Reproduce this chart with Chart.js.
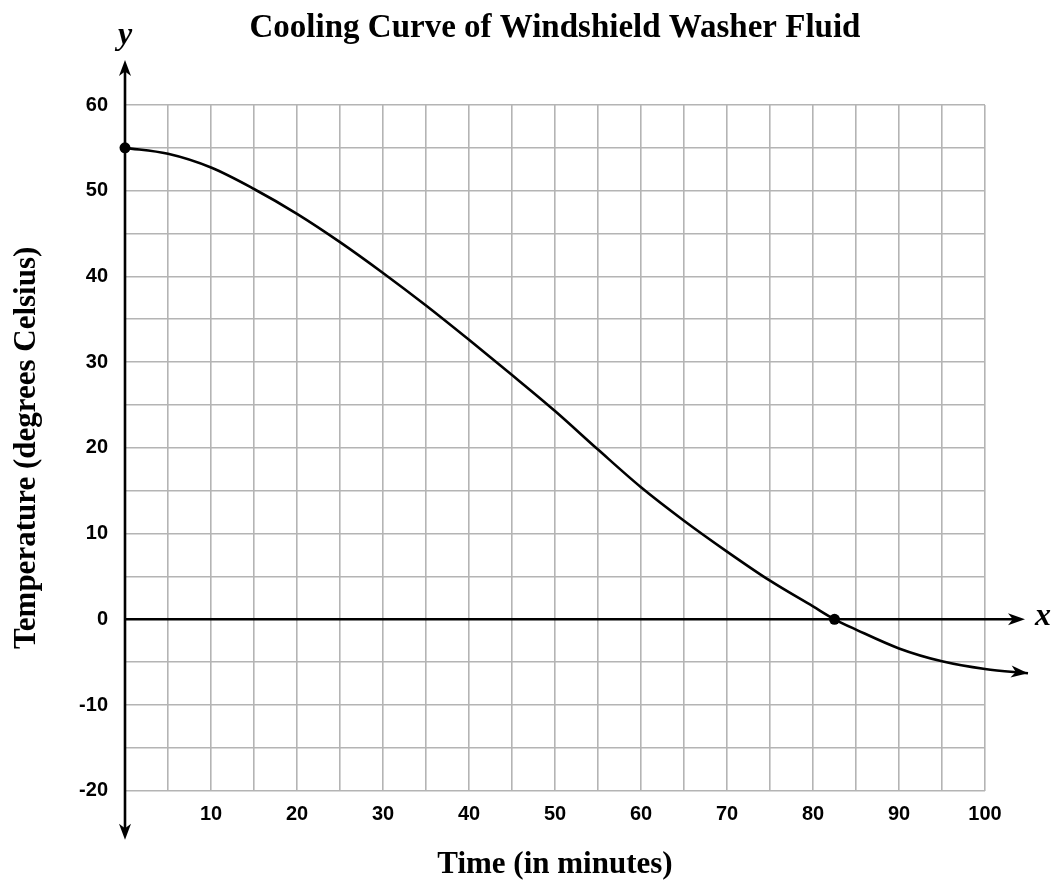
<!DOCTYPE html>
<html>
<head>
<meta charset="utf-8">
<title>Cooling Curve of Windshield Washer Fluid</title>
<script src="https://cdn.jsdelivr.net/npm/chart.js@4.4.1/dist/chart.umd.min.js"></script>
<style>
  html, body { margin: 0; padding: 0; background: #ffffff; }
  #wrap { width: 1053px; height: 884px; }
</style>
</head>
<body>
<div id="wrap"><canvas id="chart" width="1053" height="884"></canvas></div>
<script>
// Temperature of the fluid over time (minutes -> degrees Celsius)
const minutes     = [0, 5, 10, 15, 20, 25, 30, 35, 40, 45, 50, 55, 60, 65, 70, 75, 80, 82.5, 85, 90, 95, 100, 105];
const temperature = [55, 54.3, 52.7, 50.2, 47.3, 44.0, 40.4, 36.6, 32.6, 28.5, 24.3, 19.8, 15.4, 11.5, 7.9, 4.5, 1.5, 0, -1.2, -3.4, -4.9, -5.8, -6.3];

// Marked points: start temperature and freezing crossing
const markedMinutes = [0, 82.5];
const markedTemps   = [55, 0];

// Axis tick labels
const xTickLabels = ['10', '20', '30', '40', '50', '60', '70', '80', '90', '100'];
const yTickLabels = ['-20', '-10', '0', '10', '20', '30', '40', '50', '60'];

const curvePoints = minutes.map((m, i) => ({ x: m, y: temperature[i] }));
const markPoints = markedMinutes.map((m, i) => ({ x: m, y: markedTemps[i] }));

const SERIF = '"Liberation Serif", "DejaVu Serif", serif';
const SANS = '"Liberation Sans", Arial, sans-serif';

// Stealth-style arrowhead with its tip at (x, y), pointing along angle
function arrowHead(ctx, x, y, angle, len, half) {
  ctx.save();
  ctx.translate(x, y);
  ctx.rotate(angle);
  ctx.beginPath();
  ctx.moveTo(0, 0);
  ctx.lineTo(-len, -half);
  ctx.lineTo(-len * 0.72, 0);
  ctx.lineTo(-len, half);
  ctx.closePath();
  ctx.fillStyle = '#000';
  ctx.fill();
  ctx.restore();
}

// Coordinate axes drawn through the origin, with arrows and x / y labels
const coordinateAxes = {
  id: 'coordinateAxes',
  beforeDatasetsDraw(chart) {
    const { ctx, chartArea, scales } = chart;
    const x0 = scales.x.getPixelForValue(0);
    const y0 = scales.y.getPixelForValue(0);
    const xEnd = chartArea.right + 40;
    const yTop = chartArea.top - 45;
    const yBottom = chartArea.bottom + 49;
    ctx.save();
    ctx.strokeStyle = '#000';
    ctx.lineWidth = 2.6;
    ctx.lineCap = 'butt';
    // x axis
    ctx.beginPath();
    ctx.moveTo(x0, y0);
    ctx.lineTo(xEnd - 8, y0);
    ctx.stroke();
    arrowHead(ctx, xEnd, y0, 0, 17, 6);
    // y axis
    ctx.beginPath();
    ctx.moveTo(x0, yTop + 8);
    ctx.lineTo(x0, yBottom - 8);
    ctx.stroke();
    arrowHead(ctx, x0, yTop, -Math.PI / 2, 16, 6);
    arrowHead(ctx, x0, yBottom, Math.PI / 2, 16, 6);
    // axis letters
    ctx.fillStyle = '#000';
    ctx.font = 'italic bold 32px ' + SERIF;
    ctx.textAlign = 'center';
    ctx.textBaseline = 'middle';
    ctx.fillText('y', x0, yTop - 24);
    ctx.fillText('x', xEnd + 18, y0 - 3);
    ctx.restore();
  },
  afterDatasetDraw(chart, args) {
    if (args.index !== 0) return;
    // arrow at the end of the cooling curve, following its last tangent
    const pts = args.meta.data;
    const last = pts[pts.length - 1];
    const prev = pts[pts.length - 2];
    let cx = last.cp1x, cy = last.cp1y;
    if (cx === undefined || (Math.abs(cx - last.x) < 0.5 && Math.abs(cy - last.y) < 0.5)) {
      cx = prev.x; cy = prev.y;
    }
    const angle = Math.atan2(last.y - cy, last.x - cx);
    arrowHead(chart.ctx, last.x, last.y, angle, 17, 6);
  }
};

new Chart(document.getElementById('chart'), {
  type: 'line',
  data: {
    datasets: [
      {
        label: 'Temperature',
        data: curvePoints,
        borderColor: '#000',
        borderWidth: 2.6,
        cubicInterpolationMode: 'monotone',
        pointRadius: 0,
        fill: false,
        clip: false
      },
      {
        label: 'Marked points',
        data: markPoints,
        showLine: false,
        pointRadius: 5.5,
        pointBackgroundColor: '#000',
        pointBorderColor: '#000',
        pointBorderWidth: 0,
        clip: false
      }
    ]
  },
  options: {
    responsive: false,
    animation: false,
    events: [],
    layout: { padding: { left: 0, right: 68, top: 0, bottom: 0 } },
    plugins: {
      legend: { display: false },
      tooltip: { enabled: false },
      title: {
        display: true,
        fullSize: false,
        text: 'Cooling Curve of Windshield Washer Fluid',
        color: '#000',
        font: { family: SERIF, weight: 'bold', size: 33 },
        padding: { top: 9, bottom: 56.4 }
      }
    },
    scales: {
      x: {
        type: 'linear',
        position: 'bottom',
        afterDataLimits(scale) { scale.min = 0; scale.max = 100; },
        afterFit(scale) { scale.height = 93.3; },
        ticks: {
          stepSize: 5,
          autoSkip: false,
          maxRotation: 0,
          padding: 12,
          color: '#000',
          font: { family: SANS, weight: 'bold', size: 20 },
          callback: (v) => xTickLabels.includes(String(v)) ? String(v) : ''
        },
        grid: { color: '#b4b4b4', lineWidth: 1.6, drawTicks: false },
        border: { display: false },
        title: {
          display: true,
          text: 'Time (in minutes)',
          color: '#000',
          font: { family: SERIF, weight: 'bold', size: 31 },
          padding: { top: 0, bottom: 0 }
        }
      },
      y: {
        type: 'linear',
        min: -20,
        max: 60,
        afterFit(scale) { scale.width = 125; },
        ticks: {
          stepSize: 5,
          autoSkip: false,
          padding: 17,
          color: '#000',
          font: { family: SANS, weight: 'bold', size: 20 },
          callback: (v) => yTickLabels.includes(String(v)) ? String(v) : ''
        },
        grid: { color: '#b4b4b4', lineWidth: 1.6, drawTicks: false },
        border: { display: false },
        title: {
          display: true,
          text: 'Temperature (degrees Celsius)',
          color: '#000',
          font: { family: SERIF, weight: 'bold', size: 31 },
          padding: { top: 8, bottom: 0 }
        }
      }
    }
  },
  plugins: [coordinateAxes]
});
</script>
</body>
</html>
